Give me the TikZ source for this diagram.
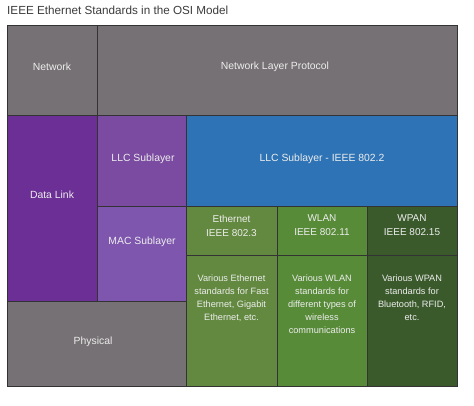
\documentclass[tikz,border=0pt]{standalone}
\usepackage{fontspec}
\setmainfont{Liberation Sans}
\definecolor{cgray}{HTML}{767174}
\definecolor{cdl}{HTML}{6B2F96}
\definecolor{cllc}{HTML}{7A4BA0}
\definecolor{cmac}{HTML}{7E56AE}
\definecolor{cblue}{HTML}{2E73B5}
\definecolor{ceth}{HTML}{62893F}
\definecolor{cwlan}{HTML}{578B38}
\definecolor{cwpan}{HTML}{3A5A2B}
\definecolor{ctxt}{HTML}{EDEDED}
\definecolor{cline}{HTML}{333333}
\definecolor{ctitle}{HTML}{3C3C3C}
\tikzset{
  cell/.style={draw=cline, line width=0.7pt, inner sep=0pt, outer sep=0pt, fill=#1},
  big/.style={text=ctxt, font=\fontsize{10.4}{13}\selectfont, align=center, inner sep=0pt},
  head/.style={text=ctxt, font=\fontsize{10}{14}\selectfont, align=center, inner sep=0pt},
  desc/.style={text=ctxt, font=\fontsize{9.2}{13}\selectfont, align=center, inner sep=0pt, anchor=north},
}
\begin{document}
\begin{tikzpicture}[x=1pt,y=-1pt]
\useasboundingbox[fill=white] (0,0) rectangle (474,405);
\node[anchor=west, text=ctitle, font=\fontsize{11.7}{13}\selectfont, inner sep=0pt] (title) at (7,10) {IEEE Ethernet Standards in the OSI Model};
% cells
\node[cell=cgray, minimum width=90pt, minimum height=90pt] (net) at (52,70) {};
\node[cell=cgray, minimum width=360pt, minimum height=90pt] (nlp) at (277,70) {};
\node[cell=cdl, minimum width=90pt, minimum height=186pt] (dl) at (52,208) {};
\node[cell=cllc, minimum width=89pt, minimum height=91pt] (llc) at (141.5,160.5) {};
\node[cell=cblue, minimum width=271pt, minimum height=91pt] (llc2) at (321.5,160.5) {};
\node[cell=cmac, minimum width=89pt, minimum height=95pt] (mac) at (141.5,253.5) {};
\node[cell=ceth, minimum width=91pt, minimum height=49pt] (ethh) at (231.5,230.5) {};
\node[cell=cwlan, minimum width=90pt, minimum height=49pt] (wlanh) at (322,230.5) {};
\node[cell=cwpan, minimum width=90pt, minimum height=49pt] (wpanh) at (412,230.5) {};
\node[cell=ceth, minimum width=91pt, minimum height=131pt] (ethd) at (231.5,320.5) {};
\node[cell=cwlan, minimum width=90pt, minimum height=131pt] (wland) at (322,320.5) {};
\node[cell=cwpan, minimum width=90pt, minimum height=131pt] (wpand) at (412,320.5) {};
\node[cell=cgray, minimum width=179pt, minimum height=85pt] (phys) at (96.5,343.5) {};
% texts
\node[big] (tnet) at (52,67) {Network};
\node[big] (tnlp) at (275,67) {Network Layer Protocol};
\node[big] (tdl) at (52,195) {Data Link};
\node[big] (tllc) at (143,159) {LLC Sublayer};
\node[big] (tllc2) at (322,159) {LLC Sublayer - IEEE 802.2};
\node[big] (tmac) at (142,242) {MAC Sublayer};
\node[big] (tphys) at (93,342) {Physical};
\node[head] (tethh) at (231.5,225.5) {Ethernet\\IEEE 802.3};
\node[head] (twlanh) at (322,225.5) {WLAN\\IEEE 802.11};
\node[head] (twpanh) at (412,225.5) {WPAN\\IEEE 802.15};
\node[desc] (tethd) at (231.5,275) {Various Ethernet\\standards for Fast\\Ethernet, Gigabit\\Ethernet, etc.};
\node[desc] (twland) at (322,275) {Various WLAN\\standards for\\different types of\\wireless\\communications};
\node[desc] (twpand) at (412,275) {Various WPAN\\standards for\\Bluetooth, RFID,\\etc.};
\end{tikzpicture}
\end{document}
